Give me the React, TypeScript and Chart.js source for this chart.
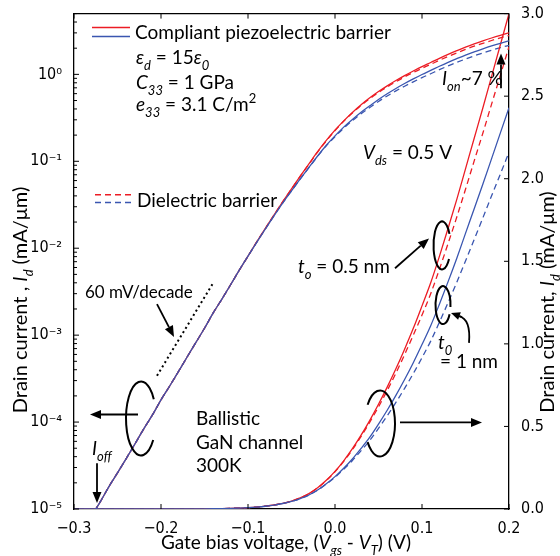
import React, { useEffect, useRef } from 'react';
import { Chart, registerables } from 'chart.js';

Chart.register(...registerables);

// Gate bias voltage (Vgs - VT), V
const gateVoltage = [
  -0.30, -0.29, -0.28, -0.27, -0.26, -0.25, -0.24, -0.23, -0.22, -0.21,
  -0.20, -0.19, -0.18, -0.17, -0.16, -0.15, -0.14, -0.13, -0.12, -0.11,
  -0.10, -0.09, -0.08, -0.07, -0.06, -0.05, -0.04, -0.03, -0.02, -0.01,
  0.00, 0.01, 0.02, 0.03, 0.04, 0.05, 0.06, 0.07, 0.08, 0.09,
  0.10, 0.11, 0.12, 0.13, 0.14, 0.15, 0.16, 0.17, 0.18, 0.19, 0.20,
];

// Drain current (mA/um): compliant piezoelectric barrier, t0 = 0.5 nm (red solid)
const piezoThin = [
  3.8e-6, 5.6e-6, 8.3e-6, 1.2e-5, 1.8e-5, 2.6e-5, 3.8e-5, 5.6e-5, 8.3e-5, 1.2e-4,
  1.8e-4, 2.6e-4, 3.8e-4, 5.6e-4, 8.2e-4, 1.2e-3, 1.8e-3, 2.6e-3, 3.8e-3, 5.6e-3,
  8.1e-3, 0.0118, 0.0169, 0.0242, 0.0343, 0.0482, 0.0673, 0.0933, 0.129, 0.174,
  0.228, 0.292, 0.365, 0.447, 0.537, 0.634, 0.738, 0.849, 0.968, 1.094,
  1.23, 1.37, 1.53, 1.70, 1.875, 2.06, 2.245, 2.43, 2.62, 2.81, 3.00,
];

// Dielectric barrier, t0 = 0.5 nm (red dashed)
const dielThin = [
  3.8e-6, 5.6e-6, 8.3e-6, 1.2e-5, 1.8e-5, 2.6e-5, 3.8e-5, 5.6e-5, 8.3e-5, 1.2e-4,
  1.8e-4, 2.6e-4, 3.8e-4, 5.6e-4, 8.2e-4, 1.2e-3, 1.8e-3, 2.6e-3, 3.8e-3, 5.6e-3,
  8.1e-3, 0.0118, 0.0169, 0.0242, 0.0343, 0.0481, 0.0670, 0.0926, 0.1277, 0.1718,
  0.2257, 0.2884, 0.3595, 0.4392, 0.5263, 0.618, 0.7173, 0.8227, 0.9351, 1.0535,
  1.1747, 1.304, 1.452, 1.608, 1.768, 1.936, 2.108, 2.277, 2.452, 2.625, 2.80,
];

// Compliant piezoelectric barrier, t0 = 1 nm (blue solid)
const piezoThick = [
  3.8e-6, 5.6e-6, 8.3e-6, 1.2e-5, 1.8e-5, 2.6e-5, 3.8e-5, 5.6e-5, 8.3e-5, 1.2e-4,
  1.8e-4, 2.6e-4, 3.8e-4, 5.6e-4, 8.2e-4, 1.2e-3, 1.8e-3, 2.6e-3, 3.8e-3, 5.6e-3,
  8.1e-3, 0.0117, 0.0167, 0.0237, 0.0333, 0.0458, 0.0626, 0.0849, 0.115, 0.153,
  0.196, 0.247, 0.303, 0.367, 0.435, 0.514, 0.598, 0.688, 0.784, 0.886,
  0.996, 1.11, 1.24, 1.377, 1.519, 1.669, 1.818, 1.968, 2.122, 2.276, 2.43,
];

// Dielectric barrier, t0 = 1 nm (blue dashed)
const dielThick = [
  3.8e-6, 5.6e-6, 8.3e-6, 1.2e-5, 1.8e-5, 2.6e-5, 3.8e-5, 5.6e-5, 8.3e-5, 1.2e-4,
  1.8e-4, 2.6e-4, 3.8e-4, 5.6e-4, 8.2e-4, 1.2e-3, 1.8e-3, 2.6e-3, 3.8e-3, 5.6e-3,
  8.1e-3, 0.0117, 0.0167, 0.0237, 0.0333, 0.0457, 0.0623, 0.0845, 0.1139, 0.1507,
  0.1921, 0.2406, 0.2933, 0.3531, 0.4159, 0.4883, 0.5645, 0.6453, 0.7307, 0.8204,
  0.9163, 1.0168, 1.1309, 1.2503, 1.3732, 1.502, 1.6326, 1.7633, 1.8971, 2.0279, 2.16,
];

const xTickValues = [-0.3, -0.2, -0.1, 0.0, 0.1, 0.2];
const linTickValues = [0, 0.5, 1.0, 1.5, 2.0, 2.5, 3.0];
const logDecades = [-5, -4, -3, -2, -1, 0];

const RED = '#ec1c24';
const BLUE = '#3a56b0';
const TICK_FONT = "'Liberation Sans Narrow', 'Arial Narrow', 'DejaVu Sans Condensed', sans-serif";
const TEXT_FONT = "Lato, 'Open Sans', sans-serif";

const SUP: Record<string, string> = {
  '-': '\u207B', '0': '\u2070', '1': '\u00B9', '2': '\u00B2', '3': '\u00B3',
  '4': '\u2074', '5': '\u2075', '6': '\u2076', '7': '\u2077', '8': '\u2078', '9': '\u2079',
};
const supText = (s: string) => s.split('').map((c) => SUP[c] || c).join('');

type Seg = { t: string; it?: boolean; sub?: boolean; sup?: boolean };

function drawRich(
  ctx: CanvasRenderingContext2D,
  segs: Seg[],
  x: number,
  y: number,
  size: number,
  align: 'left' | 'center' = 'left'
) {
  const fontFor = (s: Seg) =>
    `${s.it ? 'italic ' : ''}${s.sub || s.sup ? Math.round(size * 0.66) : size}px ${TEXT_FONT}`;
  let w = 0;
  for (const s of segs) {
    ctx.font = fontFor(s);
    w += ctx.measureText(s.t).width;
  }
  let cx = align === 'center' ? x - w / 2 : x;
  ctx.textAlign = 'left';
  ctx.textBaseline = 'alphabetic';
  for (const s of segs) {
    ctx.font = fontFor(s);
    const dy = s.sub ? size * 0.3 : s.sup ? -size * 0.4 : 0;
    ctx.fillText(s.t, cx, y + dy);
    cx += ctx.measureText(s.t).width;
  }
}

function arrow(ctx: CanvasRenderingContext2D, x1: number, y1: number, x2: number, y2: number, head = 11, hw = 4.5) {
  const ang = Math.atan2(y2 - y1, x2 - x1);
  const bx = x2 - head * Math.cos(ang);
  const by = y2 - head * Math.sin(ang);
  ctx.beginPath();
  ctx.moveTo(x1, y1);
  ctx.lineTo(bx, by);
  ctx.stroke();
  ctx.beginPath();
  ctx.moveTo(x2, y2);
  ctx.lineTo(bx + hw * Math.sin(ang), by - hw * Math.cos(ang));
  ctx.lineTo(bx - hw * Math.sin(ang), by + hw * Math.cos(ang));
  ctx.closePath();
  ctx.fill();
}

const decorPlugin = {
  id: 'decor',
  afterDraw(chart: any) {
    const { ctx, chartArea: a, scales } = chart;
    const X = (p: number) => a.left + ((p - 74) * (a.right - a.left)) / 435;
    const Y = (p: number) => a.top + ((p - 11) * (a.bottom - a.top)) / 498;
    ctx.save();
    ctx.strokeStyle = '#000';
    ctx.fillStyle = '#000';
    ctx.lineWidth = 1.3;
    // top frame line
    ctx.beginPath();
    ctx.moveTo(a.left, a.top);
    ctx.lineTo(a.right, a.top);
    ctx.stroke();
    ctx.lineWidth = 1;
    // inward ticks on x (bottom and top)
    for (const v of xTickValues) {
      const px = scales.x.getPixelForValue(v);
      ctx.beginPath();
      ctx.moveTo(px, a.bottom);
      ctx.lineTo(px, a.bottom - 5);
      ctx.moveTo(px, a.top);
      ctx.lineTo(px, a.top + 5);
      ctx.stroke();
    }
    // log ticks (left)
    for (const e of logDecades) {
      for (let m = 1; m <= 9; m++) {
        const v = m * Math.pow(10, e);
        if (v > scales.y.max) continue;
        const py = scales.y.getPixelForValue(v);
        ctx.beginPath();
        ctx.moveTo(a.left, py);
        ctx.lineTo(a.left + (m === 1 ? 5 : 3), py);
        ctx.stroke();
      }
    }
    // linear ticks (right)
    for (const v of linTickValues) {
      const py = scales.y1.getPixelForValue(v);
      ctx.beginPath();
      ctx.moveTo(a.right, py);
      ctx.lineTo(a.right - 5, py);
      ctx.stroke();
    }

    // legend lines
    ctx.lineWidth = 1.5;
    const legLine = (x1: number, x2: number, y: number, col: string, dash: number[]) => {
      ctx.strokeStyle = col;
      ctx.setLineDash(dash);
      ctx.beginPath();
      ctx.moveTo(X(x1), Y(y));
      ctx.lineTo(X(x2), Y(y));
      ctx.stroke();
    };
    legLine(92, 130, 25, RED, []);
    legLine(92, 130, 34, BLUE, []);
    legLine(95, 133, 193, RED, [6, 4]);
    legLine(95, 133, 201, BLUE, [6, 4]);
    ctx.setLineDash([]);
    ctx.strokeStyle = '#000';
    ctx.fillStyle = '#000';

    // texts
    drawRich(ctx, [{ t: 'Compliant piezoelectric barrier' }], X(135), Y(37), 19);
    drawRich(ctx, [{ t: 'ε', it: true }, { t: 'd', it: true, sub: true }, { t: ' = 15' }, { t: 'ε', it: true }, { t: '0', it: true, sub: true }], X(136), Y(62), 19);
    drawRich(ctx, [{ t: 'C', it: true }, { t: '33', it: true, sub: true }, { t: ' = 1 GPa' }], X(136), Y(87), 19);
    drawRich(ctx, [{ t: 'e', it: true }, { t: '33', it: true, sub: true }, { t: ' = 3.1 C/m' }, { t: '2', sup: true }], X(136), Y(109), 19);
    drawRich(ctx, [{ t: 'Dielectric barrier' }], X(137), Y(205), 19);
    drawRich(ctx, [{ t: 'V', it: true }, { t: 'ds', it: true, sub: true }, { t: ' = 0.5 V' }], X(363), Y(157), 19);
    drawRich(ctx, [{ t: 'I', it: true }, { t: 'on', it: true, sub: true }, { t: '~7 %' }], X(442), Y(83), 19);
    drawRich(ctx, [{ t: 't', it: true }, { t: 'o', it: true, sub: true }, { t: ' = 0.5 nm' }], X(298), Y(272), 19);
    drawRich(ctx, [{ t: 't', it: true }, { t: '0', it: true, sub: true }], X(438), Y(348), 19);
    drawRich(ctx, [{ t: '= 1 nm' }], X(440), Y(367), 19);
    drawRich(ctx, [{ t: '60 mV/decade' }], X(85), Y(297), 17);
    drawRich(ctx, [{ t: 'I', it: true }, { t: 'off', it: true, sub: true }], X(92), Y(455), 19);
    drawRich(ctx, [{ t: 'Ballistic' }], X(196), Y(425), 19);
    drawRich(ctx, [{ t: 'GaN channel' }], X(196), Y(449), 19);
    drawRich(ctx, [{ t: '300K' }], X(196), Y(472), 19);

    // axis titles
    drawRich(
      ctx,
      [{ t: 'Gate bias voltage, (' }, { t: 'V', it: true }, { t: 'gs', it: true, sub: true }, { t: ' - ' }, { t: 'V', it: true }, { t: 'T', it: true, sub: true }, { t: ') (V)' }],
      X(286), 549, 19, 'center'
    );
    ctx.save();
    ctx.translate(27, 300);
    ctx.rotate(-Math.PI / 2);
    drawRich(ctx, [{ t: 'Drain current , ' }, { t: 'I', it: true }, { t: 'd', it: true, sub: true }, { t: ' (mA/μm)' }], 0, 0, 20, 'center');
    ctx.restore();
    ctx.save();
    ctx.translate(554, 302);
    ctx.rotate(-Math.PI / 2);
    drawRich(ctx, [{ t: 'Drain current, ' }, { t: 'I', it: true }, { t: 'd', it: true, sub: true }, { t: ' (mA/μm)' }], 0, 0, 20, 'center');
    ctx.restore();

    // ellipses
    ctx.lineWidth = 2;
    ctx.beginPath();
    ctx.ellipse(X(141), Y(418), 15, 37, 0, 0.62, Math.PI * 2 - 0.55);
    ctx.stroke();
    ctx.beginPath();
    ctx.ellipse(X(442), Y(244), 8.5, 24, 0, 0.6, Math.PI * 2 - 0.5);
    ctx.stroke();
    ctx.beginPath();
    ctx.ellipse(X(443), Y(304), 7.5, 19, 0, 0.5, Math.PI * 2 + 0.1);
    ctx.stroke();
    ctx.beginPath();
    ctx.ellipse(X(380), Y(423), 15, 33, 0, Math.PI + 0.6, Math.PI * 3 - 0.6);
    ctx.stroke();

    // arrows
    ctx.lineWidth = 1.8;
    arrow(ctx, X(138), Y(414), X(90), Y(414));
    arrow(ctx, X(97), Y(463), X(97), Y(503));
    arrow(ctx, X(400), Y(422), X(482), Y(422));
    arrow(ctx, X(501), Y(86), X(501), Y(51));
    arrow(ctx, X(395), Y(267), X(429), Y(237));
    arrow(ctx, X(157), Y(303), X(174), Y(336));
    // curved arrow for t0 = 1 nm
    ctx.beginPath();
    ctx.moveTo(X(469), Y(342));
    ctx.quadraticCurveTo(X(471), Y(318), X(459), Y(315));
    ctx.stroke();
    arrow(ctx, X(462), Y(316), X(451), Y(312), 9, 4);

    // 60 mV/decade dotted reference line
    ctx.lineWidth = 2;
    ctx.setLineDash([2, 3]);
    ctx.beginPath();
    ctx.moveTo(X(157), Y(375));
    ctx.lineTo(X(213), Y(282));
    ctx.stroke();
    ctx.setLineDash([]);
    ctx.restore();
  },
};

const pts = (arr: number[]) => gateVoltage.map((v, i) => ({ x: v, y: arr[i] }));

export default function App() {
  const ref = useRef<HTMLCanvasElement | null>(null);
  useEffect(() => {
    document.body.style.margin = '0';
    const canvas = ref.current;
    if (!canvas) return;
    const mk = (data: number[], color: string, dashed: boolean, axis: string, order: number) => ({
      data: pts(data),
      borderColor: color,
      backgroundColor: color,
      borderWidth: 1.3,
      borderDash: dashed ? [6, 4] : [],
      pointRadius: 0,
      fill: false,
      cubicInterpolationMode: 'monotone' as const,
      yAxisID: axis,
      order,
    });
    const chart = new Chart(canvas, {
      type: 'line',
      data: {
        datasets: [
          mk(dielThin, RED, true, 'y', 4),
          mk(dielThick, BLUE, true, 'y', 3),
          mk(piezoThin, RED, false, 'y', 2),
          mk(piezoThick, BLUE, false, 'y', 1),
          mk(dielThin, RED, true, 'y1', 4),
          mk(dielThick, BLUE, true, 'y1', 3),
          mk(piezoThin, RED, false, 'y1', 2),
          mk(piezoThick, BLUE, false, 'y1', 1),
        ],
      },
      options: {
        animation: false,
        responsive: false,
        maintainAspectRatio: false,
        layout: { padding: { top: 11, left: 0, right: 0, bottom: 0 } },
        plugins: { legend: { display: false }, tooltip: { enabled: false } },
        scales: {
          x: {
            type: 'linear',
            position: 'bottom',
            min: -0.3,
            max: 0.2,
            grid: { display: false },
            border: { display: true, color: '#000', width: 1.3 },
            afterBuildTicks: (s: any) => {
              s.ticks = xTickValues.map((v) => ({ value: v }));
            },
            afterFit: (s: any) => {
              s.height = 47;
            },
            ticks: {
              autoSkip: false,
              maxRotation: 0,
              padding: 2,
              color: '#000',
              font: { family: TICK_FONT, size: 16 },
              callback: (v: any) => {
                const n = Number(v);
                if (Math.abs(n) < 1e-9) return '0.0';
                return (n < 0 ? '\u2212' : '') + Math.abs(n).toFixed(1);
              },
            },
          },
          y: {
            type: 'logarithmic',
            position: 'left',
            min: 1e-5,
            max: 5,
            grid: { display: false },
            border: { display: true, color: '#000', width: 1.3 },
            afterBuildTicks: (s: any) => {
              s.ticks = logDecades.map((e) => ({ value: Math.pow(10, e) }));
            },
            afterFit: (s: any) => {
              s.width = 74;
            },
            ticks: {
              autoSkip: false,
              padding: 4,
              color: '#000',
              font: { family: TICK_FONT, size: 16 },
              callback: (v: any) => '10' + supText(String(Math.round(Math.log10(Number(v))))),
            },
          },
          y1: {
            type: 'linear',
            position: 'right',
            min: 0,
            max: 3,
            grid: { display: false },
            border: { display: true, color: '#000', width: 1.3 },
            afterBuildTicks: (s: any) => {
              s.ticks = linTickValues.map((v) => ({ value: v }));
            },
            afterFit: (s: any) => {
              s.width = 51;
            },
            ticks: {
              autoSkip: false,
              padding: 4,
              color: '#000',
              font: { family: TICK_FONT, size: 16 },
              callback: (v: any) => Number(v).toFixed(1),
            },
          },
        },
      },
      plugins: [decorPlugin],
    } as any);
    return () => chart.destroy();
  }, []);
  return <canvas ref={ref} width={560} height={556} style={{ display: 'block' }} />;
}
